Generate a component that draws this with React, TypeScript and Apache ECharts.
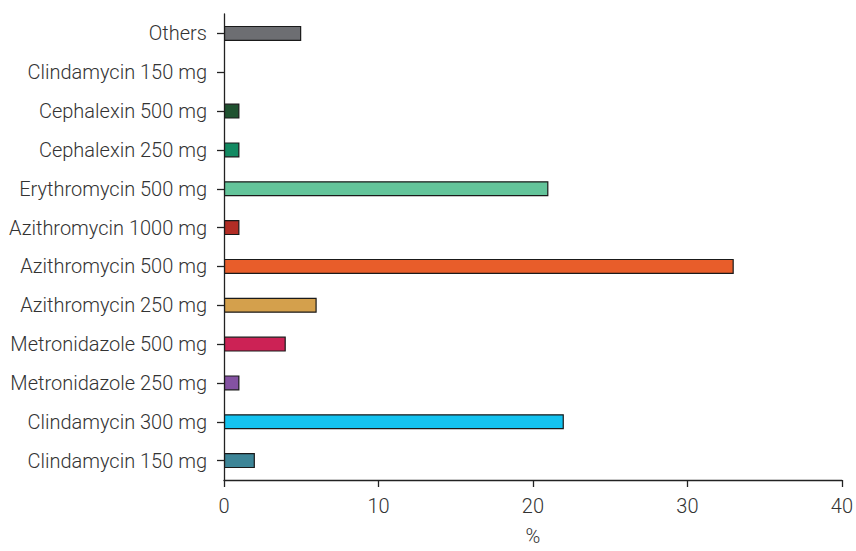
import React, { useEffect, useRef } from "react";
import * as echarts from "echarts";

const categories = [
  "Clindamycin 150 mg",
  "Clindamycin 300 mg",
  "Metronidazole 250 mg",
  "Metronidazole 500 mg",
  "Azithromycin 250 mg",
  "Azithromycin 500 mg",
  "Azithromycin 1000 mg",
  "Erythromycin 500 mg",
  "Cephalexin 250 mg",
  "Cephalexin 500 mg",
  "Clindamycin 150 mg",
  "Others",
];

const values = [2, 22, 1, 4, 6, 33, 1, 21, 1, 1, 0, 5];

const colors = [
  "#3d8597",
  "#14c3f0",
  "#8452a2",
  "#cc2255",
  "#d4a04c",
  "#e85d2a",
  "#b22d25",
  "#63c49a",
  "#138a62",
  "#1f5230",
  "#888888",
  "#6d6e72",
];

const xTicks = { min: 0, max: 40, interval: 10 };

export default function App() {
  const ref = useRef<HTMLDivElement>(null);
  useEffect(() => {
    if (!ref.current) return;
    const chart = echarts.init(ref.current, undefined, { renderer: "svg" });
    const textStyle = {
      fontFamily: "Roboto",
      fontSize: 20,
      fontWeight: 300,
      color: "#333333",
    };
    chart.setOption({
      animation: false,
      grid: { left: 224, right: 10, top: 14, bottom: 62.5, containLabel: false },
      xAxis: {
        type: "value",
        min: xTicks.min,
        max: xTicks.max,
        interval: xTicks.interval,
        name: "%",
        nameLocation: "middle",
        nameGap: 46,
        nameTextStyle: textStyle,
        axisLine: { show: true, lineStyle: { color: "#222", width: 1.3 } },
        axisTick: { show: true, length: 7, lineStyle: { color: "#222", width: 1.3 } },
        axisLabel: { ...textStyle, margin: 16 },
        splitLine: { show: false },
      },
      yAxis: {
        type: "category",
        data: categories,
        axisLine: { show: true, lineStyle: { color: "#222", width: 1.3 } },
        axisTick: { show: true, length: 7, alignWithLabel: true, lineStyle: { color: "#222", width: 1.3 } },
        axisLabel: { ...textStyle, margin: 17, interval: 0 },
        splitLine: { show: false },
      },
      series: [
        {
          type: "bar",
          barWidth: 15,
          data: values.map((v, i) => ({
            value: v,
            itemStyle: {
              color: colors[i],
              borderColor: "#1a1a1a",
              borderWidth: v === 0 ? 0 : 1.2,
            },
          })),
        },
      ],
    });
    return () => chart.dispose();
  }, []);
  return (
    <div
      ref={ref}
      style={{ position: "absolute", left: 0, top: 0, width: 856, height: 551 }}
    />
  );
}
